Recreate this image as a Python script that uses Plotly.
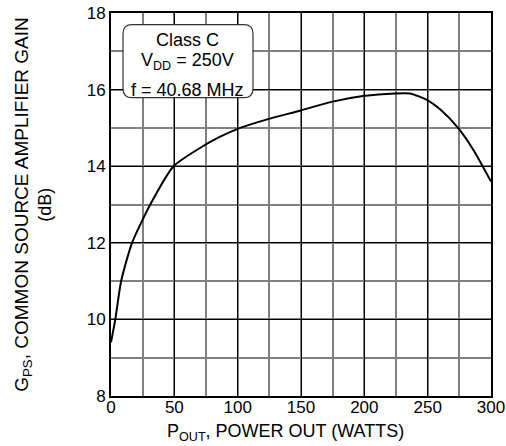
import plotly.graph_objects as go

# Data
power_out = [0, 3.4, 8, 16.6, 31, 49.4, 68, 85, 102, 124, 149, 174, 199, 224, 236, 249, 260, 274, 286, 300]
gain_db = [9.4, 10.0, 11.0, 12.0, 13.0, 14.0, 14.43, 14.75, 15.0, 15.23, 15.45, 15.68, 15.83, 15.9, 15.9, 15.74, 15.48, 15.0, 14.43, 13.6]

x_ticks = [0, 50, 100, 150, 200, 250, 300]
y_ticks = [8, 10, 12, 14, 16, 18]

box_lines = ["Class C", "V<sub>DD</sub> = 250V", "f = 40.68 MHz"]

FONT = "Liberation Sans, Arial, Helvetica, sans-serif"

fig = go.Figure()
fig.add_trace(go.Scatter(
    x=power_out, y=gain_db, mode="lines",
    line=dict(color="black", width=2, shape="spline", smoothing=0.6),
    hoverinfo="skip", showlegend=False,
))

axis_common = dict(
    showline=True, linecolor="black", linewidth=2, mirror=True,
    showgrid=True, gridcolor="black", gridwidth=1,
    ticks="", zeroline=False, automargin=False,
    tickfont=dict(family=FONT, size=17, color="black"),
)

fig.update_xaxes(
    range=[0, 300], tickvals=x_ticks, ticklabelstandoff=-5,
    minor=dict(dtick=25, showgrid=True, gridcolor="#808080", gridwidth=1.5),
    **axis_common,
)
fig.update_yaxes(
    range=[8, 18], tickvals=y_ticks,
    minor=dict(dtick=1, showgrid=True, gridcolor="#808080", gridwidth=1.5),
    **axis_common,
)

# rounded legend box
x0, x1, y0, y1 = 0.0316, 0.3737, 0.7790, 0.9695
rx, ry = 0.024, 0.0235
path = (f"M {x0+rx},{y1} L {x1-rx},{y1} Q {x1},{y1} {x1},{y1-ry} "
        f"L {x1},{y0+ry} Q {x1},{y0} {x1-rx},{y0} L {x0+rx},{y0} "
        f"Q {x0},{y0} {x0},{y0+ry} L {x0},{y1-ry} Q {x0},{y1} {x0+rx},{y1} Z")
fig.add_shape(type="path", path=path, xref="paper", yref="paper",
              fillcolor="white", line=dict(color="#333333", width=1.2), layer="above")

box_y = [0.9303, 0.874, 0.800]
for txt, yy in zip(box_lines, box_y):
    fig.add_annotation(text=txt, x=0.2008, y=yy, xref="paper", yref="paper",
                       showarrow=False, xanchor="center", yanchor="middle",
                       font=dict(family=FONT, size=18, color="black"))

# axis titles
fig.add_annotation(text="P<sub>OUT</sub>, POWER OUT (WATTS)", x=0.46, y=-0.095,
                   xref="paper", yref="paper", showarrow=False,
                   xanchor="center", yanchor="middle",
                   font=dict(family=FONT, size=18, color="black"))
fig.add_annotation(text="G<sub>PS</sub>, COMMON SOURCE AMPLIFIER GAIN", x=-0.2334, y=0.5,
                   xref="paper", yref="paper", showarrow=False, textangle=-90,
                   xanchor="center", yanchor="middle",
                   font=dict(family=FONT, size=19, color="black"))
fig.add_annotation(text="(dB)", x=-0.1755, y=0.5,
                   xref="paper", yref="paper", showarrow=False, textangle=-90,
                   xanchor="center", yanchor="middle",
                   font=dict(family=FONT, size=18, color="black"))

fig.update_layout(
    width=506, height=446,
    margin=dict(l=111, r=15, t=13, b=50),
    paper_bgcolor="white", plot_bgcolor="white",
    font=dict(family=FONT, color="black"),
)

fig.write_html("out.html", config={"displayModeBar": False},
               post_script="document.body.style.margin='0';document.body.style.overflow='hidden';")
